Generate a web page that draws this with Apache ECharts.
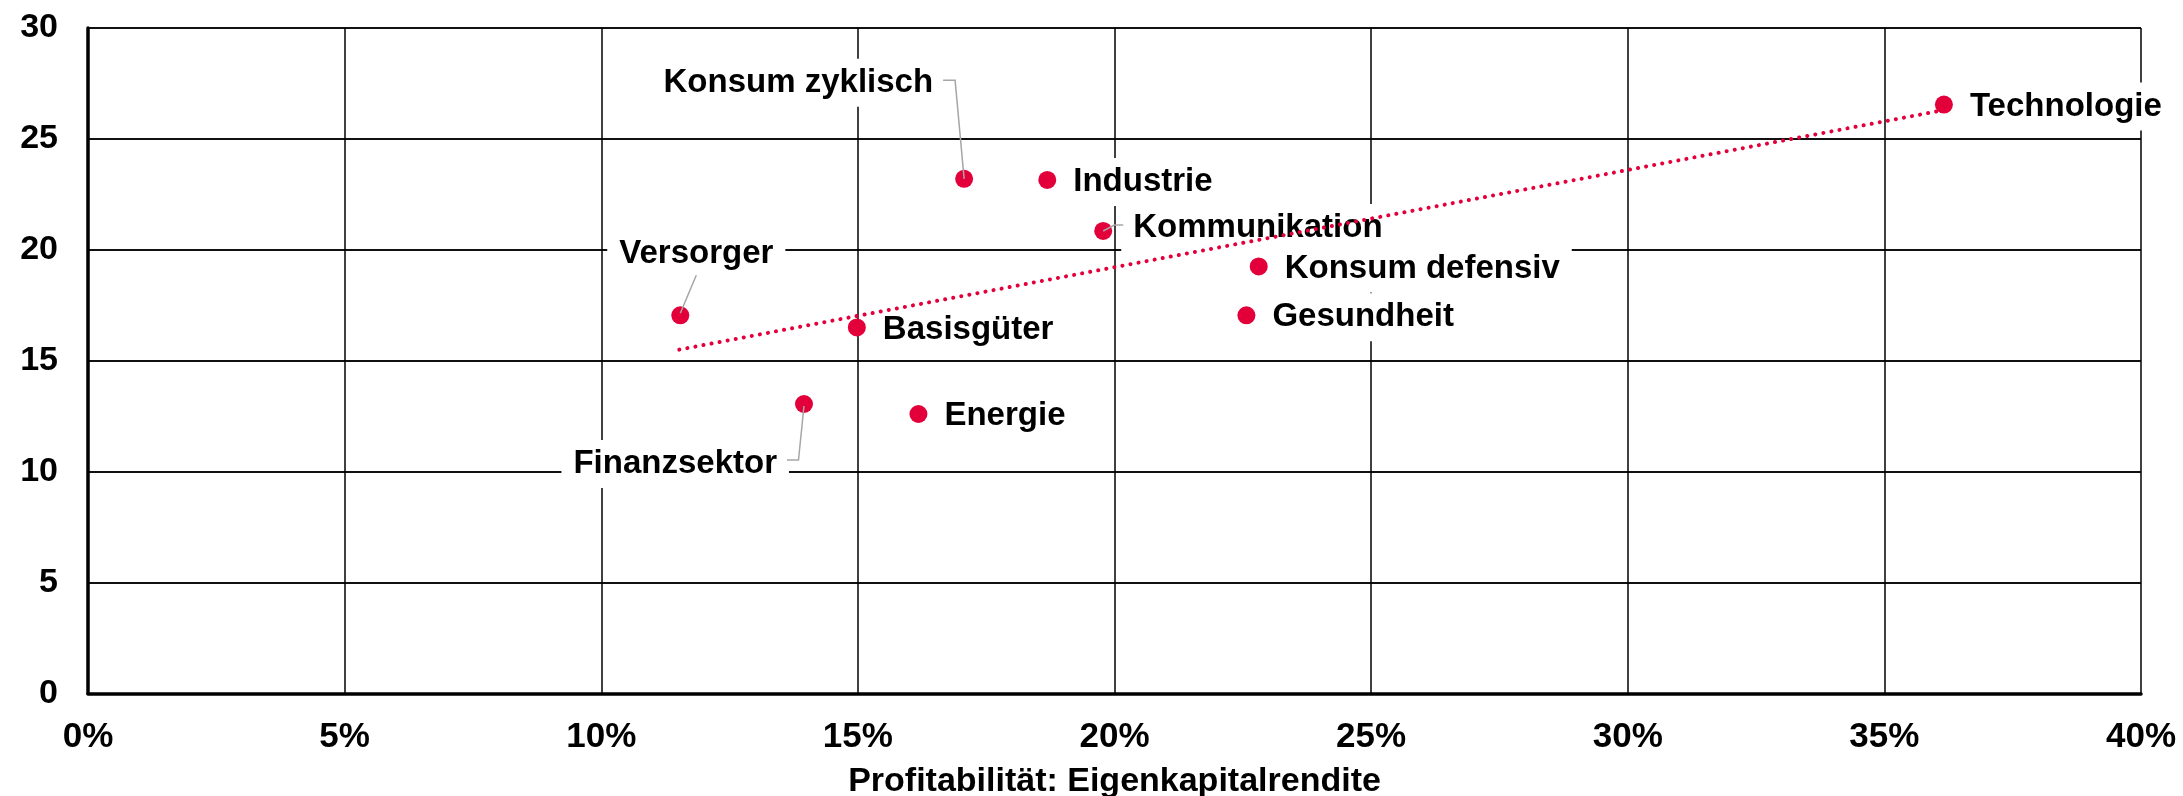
<!DOCTYPE html>
<html><head><meta charset="utf-8">
<script src="https://cdn.jsdelivr.net/npm/echarts@6/dist/echarts.min.js"></script>
<style>html,body{margin:0;padding:0;background:#fff}#c{width:2183px;height:796px}</style>
</head><body><div id="c"></div>
<script>
// ---- data ----
const sectors = ['Technologie','Konsum zyklisch','Industrie','Kommunikation','Konsum defensiv','Gesundheit','Versorger','Basisgüter','Finanzsektor','Energie'];
const roe = [36.16, 17.07, 18.69, 19.78, 22.81, 22.57, 11.54, 14.98, 13.95, 16.18];   // x, %
const pe  = [26.55, 23.20, 23.15, 20.85, 19.25, 17.05, 17.05, 16.50, 13.05, 12.60];   // y
const trendX = [11.52, 36.16];
const trendY = [15.50, 26.30];
const xTitle = 'Profitabilität: Eigenkapitalrendite';

// ---- label placement and leader-line shapes (pixel offsets from the dot; style only) ----
const placement = {
  'Konsum zyklisch': {position:'left',  offset:[-5,-96]},
  'Versorger':       {position:'top',   offset:[16,-23]},
  'Finanzsektor':    {position:'left',  offset:[-1,60]},
  'Kommunikation':   {position:'right', offset:[4,-3]}
};
const defaultPlacement = {position:'right', offset:[0,2]};
const leaderShape = {
  'Konsum zyklisch': [[0,0],[-9,-98.5],[-21,-98.5]],
  'Versorger':       [[0,-2],[16,-40]],
  'Finanzsektor':    [[0,2],[-5.5,56],[-17,56]],
  'Kommunikation':   [[0,0],[11,-6],[20,-6]]
};

const RED = '#e3003a';
const FONT = "'Liberation Sans', Arial, Helvetica, sans-serif";

const scatterData = sectors.map((name, i) => {
  const p = placement[name] || defaultPlacement;
  return {
    name: name,
    value: [roe[i], pe[i]],
    label: {position: p.position, offset: p.offset}
  };
});
const leaderData = [];
sectors.forEach((name, i) => { if (leaderShape[name]) leaderData.push([roe[i], pe[i], i]); });
const trendData = trendX.map((x, i) => [x, trendY[i]]);

const chart = echarts.init(document.getElementById('c'), null, {renderer:'canvas'});
chart.setOption({
  animation: false,
  backgroundColor: '#fff',
  grid: {left: 88, right: 42, top: 28, bottom: 102.5, containLabel: false, outerBoundsMode: 'none'},
  xAxis: {
    type: 'value', min: 0, max: 40, interval: 5,
    name: xTitle, nameLocation: 'middle', nameGap: 71,
    nameTextStyle: {fontFamily: FONT, fontWeight: 'bold', fontSize: 34, color: '#000'},
    axisLine: {show: true, onZero: false, lineStyle: {color: '#000', width: 3.5}},
    axisTick: {show: false},
    axisLabel: {formatter: '{value}%', margin: 26, fontFamily: FONT, fontWeight: 'bold', fontSize: 35, color: '#000'},
    splitLine: {show: true, lineStyle: {color: '#000', width: 1.5}}
  },
  yAxis: {
    type: 'value', min: 0, max: 30, interval: 5,
    axisLine: {show: true, onZero: false, lineStyle: {color: '#000', width: 3.5}},
    axisTick: {show: false},
    axisLabel: {margin: 30, fontFamily: FONT, fontWeight: 'bold', fontSize: 34, color: '#000'},
    splitLine: {show: true, lineStyle: {color: '#111', width: 2}}
  },
  series: [
    {
      type: 'scatter', z: 2,
      symbol: 'circle', symbolSize: 18,
      itemStyle: {color: RED, opacity: 1},
      data: scatterData,
      label: {
        show: true, formatter: '{b}', distance: 5,
        fontFamily: FONT, fontWeight: 'bold', fontSize: 33, color: '#000', opacity: 1,
        lineHeight: 34, backgroundColor: '#fff', padding: [7, 12]
      },
      emphasis: {disabled: true}
    },
    {
      type: 'custom', z: 3, silent: true,
      data: leaderData,
      encode: {x: 0, y: 1},
      renderItem: function (params, api) {
        const c = api.coord([api.value(0), api.value(1)]);
        const shape = leaderShape[sectors[api.value(2)]];
        return {
          type: 'polyline',
          shape: {points: shape.map(o => [c[0] + o[0], c[1] + o[1]])},
          style: {stroke: '#a6a6a6', lineWidth: 1.5, fill: null}
        };
      }
    },
    {
      type: 'line', z: 4,
      data: trendData,
      symbol: 'none', silent: true,
      lineStyle: {color: RED, width: 4, type: [0.1, 8.1], cap: 'round'}
    }
  ]
});
</script>
</body></html>
